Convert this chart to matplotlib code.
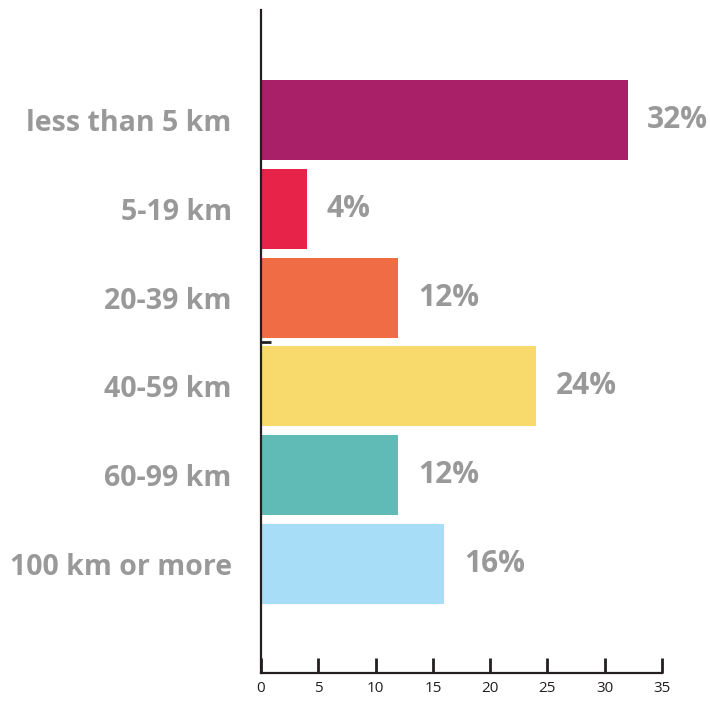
import matplotlib
matplotlib.use("Agg")
import matplotlib.pyplot as plt
from matplotlib.ticker import FixedLocator

categories = ["less than 5 km", "5-19 km", "20-39 km", "40-59 km", "60-99 km", "100 km or more"]
values = [32, 4, 12, 24, 12, 16]
colors = ["#A91F68", "#E8234A", "#F06C45", "#F7D96C", "#60BAB6", "#A7DDF6"]
xticks = [0, 5, 10, 15, 20, 25, 30, 35]

grey = "#999999"
dark = "#231F20"
lab_font = "Open Sans"

fig = plt.figure(figsize=(7.10, 7.01), dpi=100)
ax = fig.add_axes([261/710, 1-673/701, (662-261)/710, (673-10)/701])

pos = list(range(len(categories)))
ax.barh(pos, values, height=0.9, color=colors, zorder=2)

for p, v in zip(pos, values):
    ax.annotate(f"{v}%", xy=(v, p), xytext=(14, 0), textcoords="offset points",
                va="center", ha="left", fontsize=21.5, fontweight="bold",
                color=grey, family=lab_font)

ax.set_xlim(0, 35)
ax.set_ylim(6.23, -1.24)

ax.set_yticks(pos)
ax.set_yticklabels(categories, fontsize=20.5, fontweight="bold", color=grey, family=lab_font)
ax.tick_params(axis="y", which="major", length=0, pad=21)
ax.yaxis.set_minor_locator(FixedLocator([2.5]))
ax.tick_params(axis="y", which="minor", direction="in", length=7, width=2, color=dark)

ax.set_xticks(xticks)
ax.set_xticklabels([str(t) for t in xticks], fontsize=11, color=dark, family="Open Sans")
ax.tick_params(axis="x", direction="in", length=11, width=2, color=dark, pad=6)

for s in ["top", "right"]:
    ax.spines[s].set_visible(False)
for s in ["left", "bottom"]:
    ax.spines[s].set_linewidth(1.6)
    ax.spines[s].set_color(dark)

fig.savefig("out.png", dpi=100)
